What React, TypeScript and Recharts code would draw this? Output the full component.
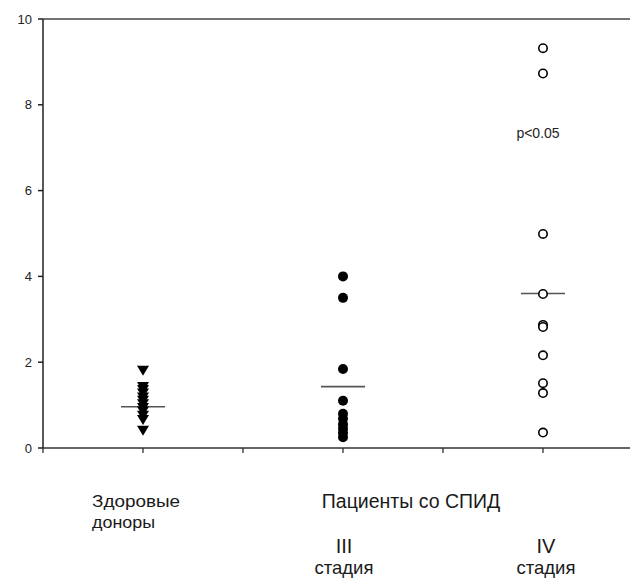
import {
  ComposedChart,
  Scatter,
  XAxis,
  YAxis,
  ReferenceLine,
  ReferenceDot,
} from "recharts";

// values
const groupX = [1, 3, 5];
const donors = [1.8, 1.42, 1.35, 1.27, 1.18, 1.1, 1.02, 0.93, 0.85, 0.75, 0.65, 0.4];
const stage3 = [4.0, 3.5, 1.84, 1.1, 0.8, 0.68, 0.55, 0.45, 0.35, 0.25];
const stage4 = [9.32, 8.73, 4.99, 3.59, 2.87, 2.82, 2.16, 1.51, 1.28, 0.36];
const medians = [0.96, 1.43, 3.6];
const yTicks = [0, 2, 4, 6, 8, 10];
const xTicks = [0, 1, 2, 3, 4, 5];

const toPoints = (xs: number, ys: number[]) => ys.map((y) => ({ x: xs, y }));

const FONT = "'Liberation Sans', Arial, sans-serif";

const DownTriangle = (props: any) => {
  const { cx, cy } = props;
  return (
    <polygon
      points={`${cx - 6},${cy - 5} ${cx + 6},${cy - 5} ${cx},${cy + 5}`}
      fill="#000"
    />
  );
};

const FilledDot = (props: any) => (
  <circle cx={props.cx} cy={props.cy} r={5} fill="#000" />
);

const OpenDot = (props: any) => (
  <circle cx={props.cx} cy={props.cy} r={4.2} fill="#fff" stroke="#000" strokeWidth={1.6} />
);

const GroupTick = (props: any) => {
  const { x, y, payload } = props;
  const v = payload.value;
  const base = { fontFamily: FONT, fill: "#1a1a1a" };
  if (v === 1) {
    return (
      <g>
        <text x={x - 51} y={y + 52} fontSize={16} textLength={88} lengthAdjust="spacingAndGlyphs" {...base}>Здоровые</text>
        <text x={x - 51} y={y + 73} fontSize={16} textLength={63} lengthAdjust="spacingAndGlyphs" {...base}>доноры</text>
      </g>
    );
  }
  if (v === 3 || v === 5) {
    const dx = v === 3 ? 1 : 3;
    return (
      <g>
        <text x={x + dx} y={y + 98} fontSize={20} textAnchor="middle" {...base}>
          {v === 3 ? "III" : "IV"}
        </text>
        <text x={x + dx} y={y + 119} fontSize={18.5} textAnchor="middle" {...base}>стадия</text>
      </g>
    );
  }
  if (v === 4) {
    return (
      <text x={x - 32} y={y + 53} fontSize={19.5} textAnchor="middle" {...base}>
        Пациенты со СПИД
      </text>
    );
  }
  return <g />;
};

export default function App() {
  return (
    <div style={{ position: "absolute", left: 0, top: 0, width: 630, height: 580, overflow: "hidden", background: "#fff" }}>
      <ComposedChart
        width={650}
        height={580}
        margin={{ top: 19, right: 0, bottom: 0, left: 0 }}
      >
        <XAxis
          type="number"
          dataKey="x"
          domain={[0, 6.07]}
          ticks={xTicks}
          allowDataOverflow
          height={132}
          stroke="#666"
          strokeWidth={2}
          tickSize={5}
          tickLine={{ stroke: "#222", strokeWidth: 1.2 }}
          tick={<GroupTick />}
          interval={0}
        />
        <YAxis
          type="number"
          dataKey="y"
          domain={[0, 10]}
          ticks={yTicks}
          width={43}
          stroke="#222"
          strokeWidth={1.5}
          tickSize={5}
          tickMargin={6}
          tick={{ fontSize: 13, fill: "#222", fontFamily: FONT }}
        />
        <ReferenceLine y={10} stroke="#444" strokeWidth={1.5} />
        {groupX.map((gx, i) => (
          <ReferenceLine
            key={gx}
            segment={[
              { x: gx - 0.22, y: medians[i] },
              { x: gx + 0.22, y: medians[i] },
            ]}
            stroke="#555"
            strokeWidth={1.6}
          />
        ))}
        <Scatter data={toPoints(groupX[0], donors)} shape={<DownTriangle />} isAnimationActive={false} />
        <Scatter data={toPoints(groupX[1], stage3)} shape={<FilledDot />} isAnimationActive={false} />
        <Scatter data={toPoints(groupX[2], stage4)} shape={<OpenDot />} isAnimationActive={false} />
        <ReferenceDot
          x={4.95}
          y={7.34}
          r={0}
          fill="none"
          stroke="none"
          label={{ value: "p<0.05", position: "center", fontSize: 14, fill: "#222", fontFamily: FONT }}
        />
      </ComposedChart>
    </div>
  );
}
